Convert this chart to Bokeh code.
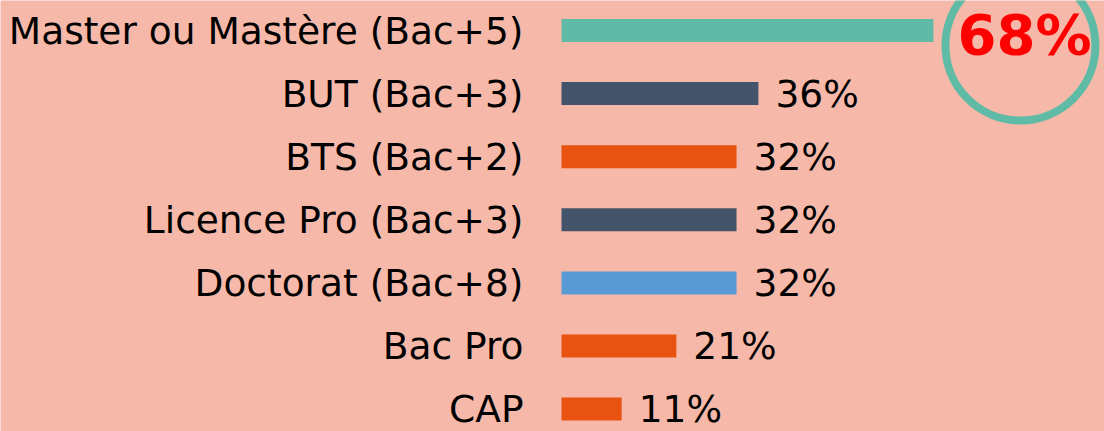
from bokeh.plotting import figure
from bokeh.models import Range1d, ColumnDataSource
from bokeh.core.properties import value
from bokeh.embed import file_html
from bokeh.resources import INLINE

# ---- data ----
categories = ["Master ou Mastère (Bac+5)", "BUT (Bac+3)", "BTS (Bac+2)",
              "Licence Pro (Bac+3)", "Doctorat (Bac+8)", "Bac Pro", "CAP"]
values = [68, 36, 32, 32, 32, 21, 11]
bar_colors = ["#5fbba6", "#44546a", "#e85311", "#44546a", "#5b9bd5", "#e85311", "#e85311"]

# ---- layout / style ----
W, H = 1104, 431
BG = "#f6b9a9"
FONT = "DejaVu Sans"
px_per_pct = 5.47
origin_px = 561
row_px = 63.1
top_px = 30

rows = list(range(len(categories)))
labels = [f"{v}%" for v in values]
hi = values.index(max(values))

src = ColumnDataSource(dict(y=rows, v=values, c=bar_colors, cat=categories, lab=labels))
norm = [i for i in rows if i != hi]
src_norm = ColumnDataSource(dict(y=[rows[i] for i in norm], v=[values[i] for i in norm],
                                 lab=[labels[i] for i in norm]))
src_hi = ColumnDataSource(dict(y=[rows[hi]], v=[values[hi]], lab=[labels[hi]]))

p = figure(width=W, height=H, output_backend="svg", toolbar_location=None,
           x_range=Range1d(-origin_px / px_per_pct, (W - origin_px) / px_per_pct),
           y_range=Range1d((H - top_px) / row_px, -top_px / row_px),
           x_axis_location=None, y_axis_location=None,
           min_border=0, background_fill_color=BG, border_fill_color=BG,
           outline_line_color=None)
p.grid.visible = False

p.hbar(y="y", left=0, right="v", height=0.365, color="c", source=src, line_color=None)

# category labels
p.text(x=0, y="y", text="cat", source=src, x_offset=-38, text_align="right",
       text_baseline="middle", text_font=value(FONT), text_font_size="37.5px",
       text_color="black")

# value labels
p.text(x="v", y="y", text="lab", source=src_norm, x_offset=17, text_align="left",
       text_baseline="middle", text_font=value(FONT), text_font_size="37.5px",
       text_color="black")

# highlight ring around the top value
p.scatter(x=[values[hi] + 87 / px_per_pct], y=[rows[hi] + 15 / row_px], size=150,
          marker="circle", fill_color=None, line_color="#5fbba6", line_width=8)

p.text(x="v", y="y", text="lab", source=src_hi, x_offset=24, y_offset=4,
       text_align="left", text_baseline="middle", text_font=value(FONT),
       text_font_size="56px", text_font_style="bold", text_color="#ff0000")

open("out.html", "w").write(file_html(p, INLINE))
